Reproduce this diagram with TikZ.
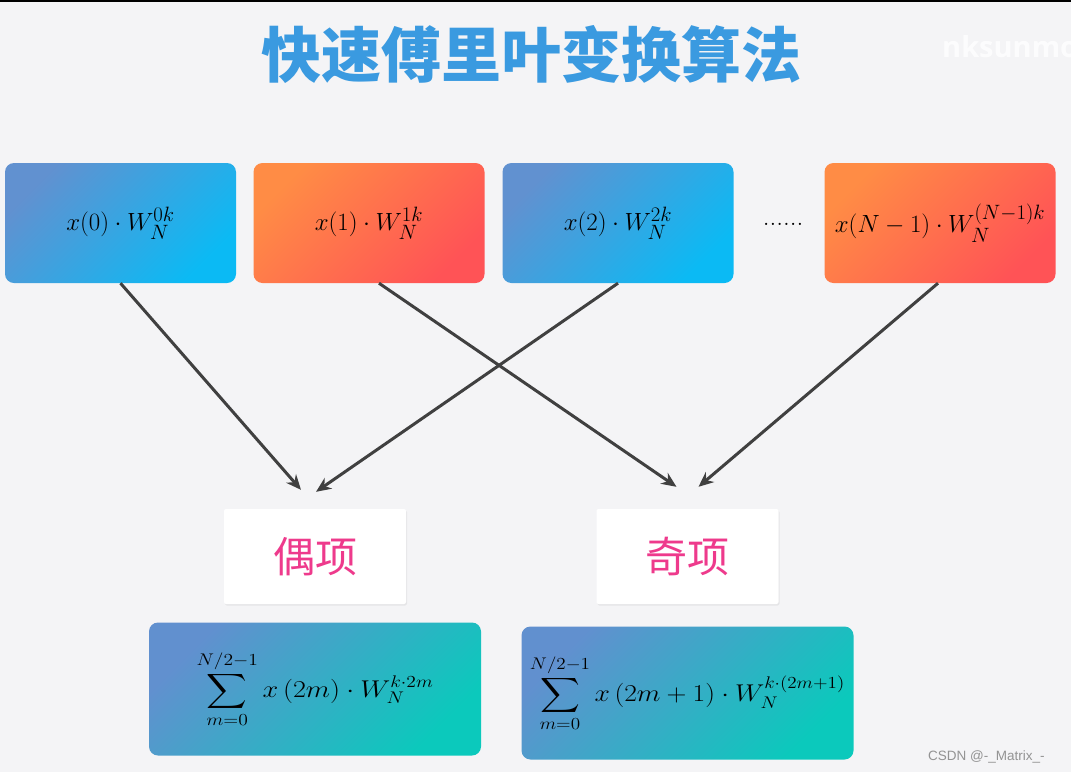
\documentclass[tikz,border=0pt]{standalone}
\usepackage{amsmath}
\usepackage{graphicx}
\usepackage{fontspec}
\usetikzlibrary{arrows.meta,shadows}
\newfontfamily\cjk{Noto Sans CJK SC}
\newfontfamily\wsans{Liberation Sans}
\newfontfamily\osans{Open Sans}
\definecolor{bgc}{HTML}{F4F4F6}
\definecolor{bluetl}{HTML}{6191D0}
\definecolor{bluebr}{HTML}{0BBAF4}
\definecolor{orangetl}{HTML}{FF8C45}
\definecolor{orangebr}{HTML}{FF5356}
\definecolor{tealtl}{HTML}{6190CF}
\definecolor{tealbr}{HTML}{0BC9BC}
\definecolor{arrowc}{HTML}{404040}
\definecolor{titlec}{HTML}{3A9AE0}
\definecolor{pinkc}{HTML}{EE3A8C}
\tikzset{
  termbox/.style={rounded corners=9pt, minimum width=231pt, minimum height=120pt, inner sep=0pt,
    font=\fontsize{24.88}{29}\selectfont},
  bluebox/.style={termbox, top color=bluetl, bottom color=bluebr, shading angle=45},
  orangebox/.style={termbox, top color=orangetl, bottom color=orangebr, shading angle=45},
  sumbox/.style={rounded corners=9pt, minimum width=332pt, minimum height=133pt, inner sep=0pt,
    top color=tealtl, bottom color=tealbr, shading angle=45, font=\fontsize{20.74}{25}\selectfont},
  labelbox/.style={fill=white, rounded corners=2pt, minimum width=182pt, minimum height=95pt, inner sep=0pt,
    drop shadow={opacity=0.12, shadow xshift=1pt, shadow yshift=-1.5pt},
    text=pinkc, font=\cjk\fontsize{42}{46}\selectfont},
  link/.style={draw=arrowc, line width=3pt, -{Stealth[length=15pt,width=13pt]}}
}
\begin{document}
\begin{tikzpicture}[x=1pt,y=-1pt]
\fill[bgc] (0,0) rectangle (1071,772);
\useasboundingbox (0,0) rectangle (1071,772);
\fill[black] (0,0) rectangle (1071,1.5);
% title
\node[text=titlec, font=\cjk\bfseries\fontsize{60}{64}\selectfont, inner sep=0pt] (title) at (531,54) {快速傅里叶变换算法};
\node[text=white, font=\osans\bfseries\fontsize{29}{32}\selectfont, anchor=west, inner sep=0pt, opacity=0.8] (wm) at (942,47) {nksunmo};
% top boxes
\node[bluebox] (b0) at (120.5,223) {$x(0)\cdot W_N^{0k}$};
\node[orangebox] (b1) at (369,223) {$x(1)\cdot W_N^{1k}$};
\node[bluebox] (b2) at (618,223) {$x(2)\cdot W_N^{2k}$};
\node[font=\fontsize{27}{30}\selectfont, inner sep=0pt] (dots) at (783,224) {......};
\node[orangebox] (b3) at (940,223) {$x(N-1)\cdot W_N^{(N-1)k}$};
% label boxes
\node[labelbox] (even) at (315,556.5) {偶项};
\node[labelbox] (odd) at (687.5,556.5) {奇项};
% sum boxes
\node[sumbox] (se) at (315,689) {\scalebox{1.36}[1.17]{$\displaystyle\sum_{m=0}^{N/2-1} x\left(2m\right)\cdot W_N^{k\cdot 2m}$}};
\node[sumbox] (so) at (687.5,693) {\scalebox{1.33}[1.17]{$\displaystyle\sum_{m=0}^{N/2-1} x\left(2m+1\right)\cdot W_N^{k\cdot(2m+1)}$}};
% arrows
\draw[link] (b0.south) -- ([shift={(-14,-19)}]even.north);
\draw[link] (b2.south) -- ([shift={(1,-17)}]even.north);
\draw[link] ([xshift=10pt]b1.south) -- ([shift={(-11,-22)}]odd.north);
\draw[link] ([xshift=-2pt]b3.south) -- ([shift={(11,-22)}]odd.north);
% watermark
\node[text=gray!85, font=\wsans\fontsize{13.5}{16}\selectfont, anchor=west, inner sep=0pt] (csdn) at (928,757) {CSDN @-\_Matrix\_-};
\end{tikzpicture}
\end{document}
